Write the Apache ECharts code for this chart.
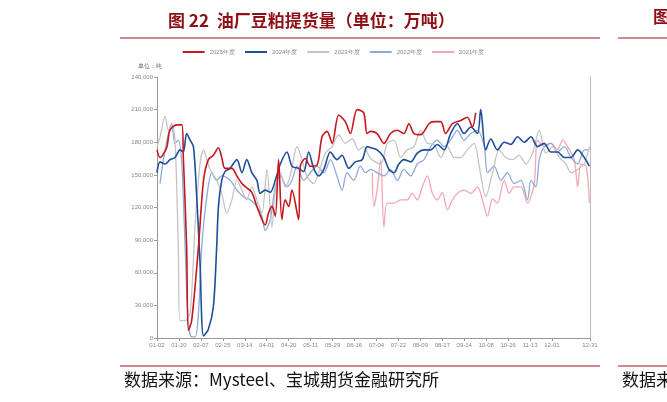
<!DOCTYPE html>
<html>
<head>
<meta charset="utf-8">
<script src="https://cdn.jsdelivr.net/npm/echarts@6/dist/echarts.min.js"></script>
<style>html,body{margin:0;padding:0;background:#fff}#c{width:667px;height:402px}</style>
</head>
<body>
<div id="c"></div>
<script>
// x 轴刻度标签（交易日，等距）
var tickLabels = ['01-02','01-20','02-07','02-25','03-14','04-01','04-20','05-11','05-29','06-16',
  '07-04','07-22','08-09','08-27','09-14','10-08','10-26','11-13','12-01','12-31'];
var tickPos = [0,1,2,3,4,5,6,7,8,9,10,11,12,13,14,15,16,17,18,19.73];

// [位置, 千吨]
var y2025 = [[0,173],[.14,166],[.44,175],[.59,191],[.9,196],[1.13,196],[1.2,166],[1.35,84],[1.43,7],[1.58,16],[1.89,84],
  [2.12,145],[2.34,164],[2.57,168],[2.8,175],[2.95,166],[3.1,156],[3.41,156],[3.64,149],[3.87,142],[4.09,138],[4.32,134],
  [4.55,121],[4.78,109],[4.93,104],[5.08,115],[5.24,121],[5.39,112],[5.54,164],[5.69,109],[5.84,127],[6.0,121],[6.15,136],
  [6.45,109],[6.53,158],[6.76,165],[6.99,158],[7.29,159],[7.52,185],[7.75,190],[7.98,179],[8.28,205],[8.58,199],[8.81,188],
  [9.12,210],[9.42,207],[9.57,188],[9.73,190],[10.03,188],[10.34,179],[10.64,188],[10.95,191],[11.25,188],[11.48,197],
  [11.71,188],[12.01,187],[12.39,197],[12.62,199],[12.93,199],[13.15,188],[13.46,197],[13.84,200],[14.14,203],[14.37,194],[14.52,207]];
var y2024 = [[0,152],[.14,162],[.37,160],[.59,164],[.82,166],[1.05,173],[1.2,171],[1.35,188],[1.51,182],[1.66,176],[1.81,130],
  [1.96,69],[2.12,2],[2.34,8],[2.57,29],[2.72,84],[2.8,121],[2.95,145],[3.1,153],[3.33,156],[3.64,164],[3.87,152],[4.09,164],
  [4.32,152],[4.55,145],[4.7,133],[4.93,136],[5.16,134],[5.39,145],[5.62,160],[5.92,171],[6.15,158],[6.45,156],[6.68,153],
  [6.91,171],[7.14,156],[7.37,149],[7.6,155],[7.9,171],[8.2,164],[8.43,168],[8.74,156],[9.04,162],[9.35,164],[9.57,176],
  [9.73,175],[10.03,173],[10.34,166],[10.57,155],[10.8,152],[11.02,160],[11.25,164],[11.56,162],[11.86,170],[12.17,173],
  [12.47,173],[12.77,178],[13.08,173],[13.38,188],[13.69,197],[13.99,188],[14.3,194],[14.6,188],[14.75,210],[14.98,173],
  [15.21,183],[15.51,173],[15.82,180],[16.12,178],[16.43,185],[16.73,180],[17.04,185],[17.34,176],[17.64,179],[17.95,171],
  [18.25,171],[18.56,166],[18.86,166],[19.17,173],[19.47,166],[19.7,158]];
var y2023 = [[0,176],[.14,185],[.37,204],[.52,191],[.67,196],[.82,182],[.97,84],[1.05,16],[1.28,16],[1.51,23],[1.74,105],
  [1.96,160],[2.12,173],[2.27,164],[2.42,155],[2.72,145],[2.95,133],[3.18,115],[3.41,127],[3.64,145],[3.87,136],[4.09,127],
  [4.32,139],[4.55,127],[4.78,115],[5.01,155],[5.24,102],[5.39,136],[5.62,152],[5.84,139],[6.07,149],[6.38,176],[6.61,164],
  [6.83,149],[7.14,142],[7.37,152],[7.67,170],[7.98,176],[8.28,187],[8.58,179],[8.89,183],[9.19,173],[9.42,176],[9.73,165],
  [10.19,160],[10.49,179],[10.8,182],[11.1,166],[11.4,173],[11.71,176],[12.01,191],[12.32,179],[12.62,178],[12.93,166],
  [13.23,176],[13.54,166],[13.84,166],[14.14,173],[14.45,179],[14.68,158],[14.98,130],[15.29,152],[15.59,173],[15.89,166],
  [16.2,164],[16.5,168],[16.81,160],[17.11,170],[17.42,191],[17.72,170],[18.03,176],[18.33,166],[18.63,160],[18.86,152],
  [19.17,155],[19.47,160],[19.7,176]];
var y2022 = [[.14,142],[.29,164],[.52,188],[.67,197],[.82,179],[.97,182],[1.13,160],[1.28,84],[1.43,13],[1.58,1],[1.74,1],
  [1.89,23],[2.04,84],[2.27,130],[2.5,152],[2.72,145],[2.95,149],[3.33,145],[3.64,136],[3.94,130],[4.25,127],[4.55,121],
  [4.78,112],[4.93,99],[5.16,109],[5.39,139],[5.62,149],[5.92,139],[6.15,145],[6.38,158],[6.68,145],[6.99,152],[7.29,158],
  [7.6,152],[7.9,164],[8.2,149],[8.43,136],[8.66,152],[8.96,145],[9.27,158],[9.5,152],[9.73,155],[10.03,152],[10.34,149],
  [10.64,155],[10.95,145],[11.25,155],[11.56,149],[11.86,160],[12.17,164],[12.47,176],[12.77,182],[13.08,176],[13.38,182],
  [13.69,191],[13.99,182],[14.3,188],[14.6,191],[14.91,176],[15.06,152],[15.36,158],[15.67,145],[15.97,152],[16.27,142],
  [16.58,145],[16.88,127],[17.04,145],[17.26,139],[17.42,164],[17.64,176],[17.95,179],[18.25,171],[18.56,176],[18.86,166],
  [19.17,160],[19.47,173],[19.7,173]];
var y2021 = [[9.81,152],[9.88,121],[10.03,136],[10.19,164],[10.34,102],[10.49,124],[10.8,124],[11.1,127],[11.4,127],
  [11.63,133],[11.86,127],[12.09,139],[12.32,149],[12.55,133],[12.77,127],[13.0,134],[13.23,118],[13.46,127],[13.69,133],
  [13.99,136],[14.3,133],[14.6,139],[14.83,127],[15.06,112],[15.29,128],[15.51,124],[15.82,145],[16.05,133],[16.27,139],
  [16.58,139],[16.88,124],[17.19,142],[17.34,182],[17.64,176],[17.95,179],[18.25,173],[18.48,182],[18.71,176],[19.01,164],
  [19.17,139],[19.32,160],[19.55,158],[19.7,124]];

function toTon(arr) { return arr.map(function (p) { return [p[0], p[1] * 1000]; }); }

var chart = echarts.init(document.getElementById('c'));
var names = ['2025年度','2024年度','2023年度','2022年度','2021年度'];
var colors = ['#c8161d','#1d4f9a','#c4c4c4','#8eaad6','#f4a7b2'];
var datas = [y2025, y2024, y2023, y2022, y2021];

chart.setOption({
  animation: false,
  title: {
    text: '图 22  油厂豆粕提货量（单位：万吨）', left: 163, top: 7,
    textStyle: { color: '#8e1016', fontSize: 17, fontWeight: 'bold', fontFamily: 'Noto Sans CJK SC' }
  },
  legend: {
    top: 44, left: 'center', itemWidth: 22, itemHeight: 2, itemGap: 10, icon: 'rect',
    textStyle: { fontSize: 6, color: '#888' }, data: names
  },
  grid: { left: 157, right: 77, top: 77, bottom: 64 },
  xAxis: {
    type: 'value', min: 0, max: 19.73,
    axisLine: { lineStyle: { color: '#999' } },
    axisTick: { customValues: tickPos, lineStyle: { color: '#999' }, length: 3 },
    axisLabel: {
      customValues: tickPos, fontSize: 6, color: '#888', margin: 4,
      formatter: function (v) { var i = tickPos.indexOf(v); return i >= 0 ? tickLabels[i] : ''; }
    },
    splitLine: { show: false }
  },
  yAxis: [{
    type: 'value', min: 0, max: 240000, interval: 30000,
    name: '单位：吨', nameGap: 8, nameTextStyle: { fontSize: 6, color: '#666', align: 'right', padding: [0, -5, 0, 0] },
    axisLine: { show: true, lineStyle: { color: '#999' } },
    axisTick: { show: true, length: 3, lineStyle: { color: '#999' } },
    axisLabel: { fontSize: 6, color: '#888', margin: 4, formatter: function (v) { return v.toLocaleString('en-US'); } },
    splitLine: { show: false }
  }, {
    type: 'value', min: 0, max: 240000, position: 'right',
    axisLine: { show: true, lineStyle: { color: '#bbb' } },
    axisTick: { show: false }, axisLabel: { show: false }, splitLine: { show: false }
  }],
  series: names.map(function (n, i) {
    return {
      name: n, type: 'line', data: toTon(datas[i]), smooth: 0.3, symbol: 'none',
      z: 10 - i, itemStyle: { color: colors[i] }, lineStyle: { width: i < 2 ? 1.6 : 1.3, color: colors[i] }
    };
  }),
  graphic: [
    { type: 'line', shape: { x1: 120, y1: 38, x2: 600, y2: 38 }, style: { stroke: '#a0151c', lineWidth: 1 } },
    { type: 'line', shape: { x1: 120, y1: 366, x2: 600, y2: 366 }, style: { stroke: '#a0151c', lineWidth: 1 } },
    { type: 'text', left: 124, top: 371, style: { text: '数据来源：Mysteel、宝城期货金融研究所', fontSize: 17, fill: '#111', fontFamily: 'Noto Sans CJK SC' } },
    { type: 'text', left: 622, top: 371, style: { text: '数据来', fontSize: 17, fill: '#111', fontFamily: 'Noto Sans CJK SC' } },
    { type: 'text', left: 653, top: 8, style: { text: '图', fontSize: 17, fontWeight: 'bold', fill: '#8e1016', fontFamily: 'Noto Sans CJK SC' } },
    { type: 'line', shape: { x1: 618, y1: 38, x2: 667, y2: 38 }, style: { stroke: '#a0151c', lineWidth: 1 } },
    { type: 'line', shape: { x1: 618, y1: 366, x2: 667, y2: 366 }, style: { stroke: '#a0151c', lineWidth: 1 } }
  ]
});
</script>
</body>
</html>
